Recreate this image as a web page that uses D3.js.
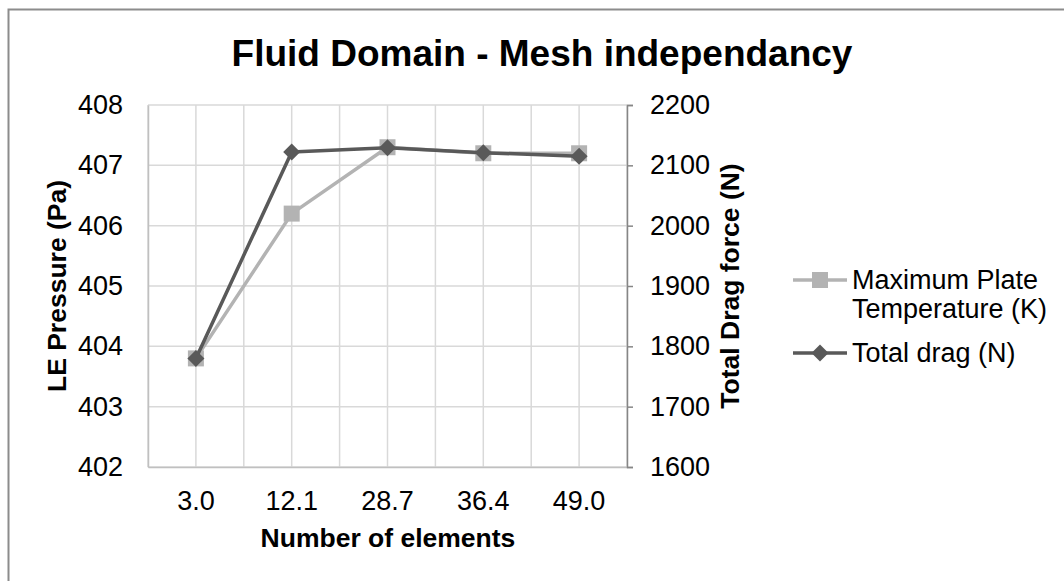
<!DOCTYPE html>
<html>
<head>
<meta charset="utf-8">
<script src="https://cdn.jsdelivr.net/npm/d3@7"></script>
<style>
  html, body { margin: 0; padding: 0; background: #fff; }
  svg { display: block; font-family: "Liberation Sans", Arial, sans-serif; }
</style>
</head>
<body>
<svg id="chart" width="1064" height="581"></svg>
<script>
// Mesh sizes (number of elements) and the two monitored quantities
const categories = ["3.0", "12.1", "28.7", "36.4", "49.0"];
const plateTemperature = [403.8, 406.2, 407.3, 407.2, 407.2];   // left axis
const totalDrag = [1780, 2122, 2129, 2121, 2115];                // right axis
const leftTicks = [402, 403, 404, 405, 406, 407, 408];
const rightTicks = [1600, 1700, 1800, 1900, 2000, 2100, 2200];
const seriesNames = ["Maximum Plate", "Temperature (K)", "Total drag (N)"];

const svg = d3.select("#chart");
const W = 1064, H = 581;
const plot = { left: 148, right: 627, top: 105, bottom: 467 };

const lightGrey = "#b3b3b3";
const darkGrey = "#595959";
const gridColor = "#d9d9d9";
const tickFont = 27;

// Outer chart frame
svg.append("rect")
  .attr("x", 8.5).attr("y", 9.5)
  .attr("width", W + 20).attr("height", H + 20)
  .attr("fill", "#fff").attr("stroke", "#8c8c8c").attr("stroke-width", 2);

// Scales
const x = d3.scaleBand().domain(categories).range([plot.left, plot.right]).padding(0);
const yL = d3.scaleLinear().domain([402, 408]).range([plot.bottom, plot.top]);
const yR = d3.scaleLinear().domain([1600, 2200]).range([plot.bottom, plot.top]);
const cx = c => x(c) + x.bandwidth() / 2;

// Gridlines: horizontal at each left tick, vertical at band edges and centres
const grid = svg.append("g").attr("stroke", gridColor).attr("stroke-width", 1.5);
grid.selectAll("line.h").data(leftTicks).join("line")
  .attr("x1", plot.left).attr("x2", plot.right)
  .attr("y1", d => yL(d)).attr("y2", d => yL(d));
const vPos = [];
categories.forEach(c => { vPos.push(x(c)); vPos.push(cx(c)); });
vPos.push(plot.right);
grid.selectAll("line.v").data(vPos).join("line")
  .attr("x1", d => d).attr("x2", d => d)
  .attr("y1", plot.top).attr("y2", plot.bottom);

// Left axis (no tick marks, light line)
const leftAxis = svg.append("g").attr("transform", `translate(${plot.left},0)`)
  .call(d3.axisLeft(yL).tickValues(leftTicks).tickFormat(d3.format("d")).tickSize(0).tickPadding(25));
leftAxis.select(".domain").attr("stroke", "#c0c0c0").attr("stroke-width", 1.5);
leftAxis.selectAll("text").attr("font-size", tickFont).attr("fill", "#000")
  .attr("font-family", "Liberation Sans, Arial, sans-serif");

// Bottom axis
const bottomAxis = svg.append("g").attr("transform", `translate(0,${plot.bottom})`)
  .call(d3.axisBottom(x).tickSize(0).tickPadding(24));
bottomAxis.select(".domain").attr("stroke", "#c0c0c0").attr("stroke-width", 1.5);
bottomAxis.selectAll("text").attr("font-size", tickFont).attr("fill", "#000")
  .attr("font-family", "Liberation Sans, Arial, sans-serif");

// Right axis with outward ticks
const rightAxis = svg.append("g").attr("transform", `translate(${plot.right},0)`)
  .call(d3.axisRight(yR).tickValues(rightTicks).tickFormat(d3.format("d")).tickSizeOuter(0).tickSize(6).tickPadding(17));
rightAxis.select(".domain").attr("stroke", "#868686").attr("stroke-width", 1.5);
rightAxis.selectAll(".tick line").attr("stroke", "#868686").attr("stroke-width", 1.5);
rightAxis.selectAll("text").attr("font-size", tickFont).attr("fill", "#000")
  .attr("font-family", "Liberation Sans, Arial, sans-serif");

// Series lines and markers
const lineL = d3.line().x((d, i) => cx(categories[i])).y(d => yL(d));
const lineR = d3.line().x((d, i) => cx(categories[i])).y(d => yR(d));

svg.append("path").datum(plateTemperature).attr("d", lineL)
  .attr("fill", "none").attr("stroke", lightGrey).attr("stroke-width", 3.5).attr("stroke-linejoin", "round");
const sq = 16;
svg.append("g").selectAll("rect").data(plateTemperature).join("rect")
  .attr("x", (d, i) => cx(categories[i]) - sq / 2)
  .attr("y", d => yL(d) - sq / 2)
  .attr("width", sq).attr("height", sq).attr("fill", lightGrey);

svg.append("path").datum(totalDrag).attr("d", lineR)
  .attr("fill", "none").attr("stroke", darkGrey).attr("stroke-width", 3.5).attr("stroke-linejoin", "round");
const diamond = d3.symbol().type(d3.symbolDiamond2).size(185);
svg.append("g").selectAll("path").data(totalDrag).join("path")
  .attr("d", diamond)
  .attr("transform", (d, i) => `translate(${cx(categories[i])},${yR(d)})`)
  .attr("fill", darkGrey);

// Titles
svg.append("text").attr("x", 542).attr("y", 66).attr("text-anchor", "middle")
  .attr("font-size", 37).attr("font-weight", "bold").text("Fluid Domain - Mesh independancy");
svg.append("text").attr("x", 388).attr("y", 547).attr("text-anchor", "middle")
  .attr("font-size", 26.5).attr("font-weight", "bold").text("Number of elements");
svg.append("text").attr("transform", `translate(66,${(plot.top + plot.bottom) / 2}) rotate(-90)`)
  .attr("text-anchor", "middle").attr("font-size", 26.5).attr("font-weight", "bold")
  .text("LE Pressure (Pa)");
svg.append("text").attr("transform", `translate(739,${(plot.top + plot.bottom) / 2}) rotate(-90)`)
  .attr("text-anchor", "middle").attr("font-size", 26.5).attr("font-weight", "bold")
  .text("Total Drag force (N)");

// Legend
const lg = svg.append("g");
const lx0 = 793, lx1 = 847, ltx = 852;
lg.append("line").attr("x1", lx0).attr("x2", lx1).attr("y1", 280).attr("y2", 280)
  .attr("stroke", lightGrey).attr("stroke-width", 3.5);
lg.append("rect").attr("x", (lx0 + lx1) / 2 - sq / 2).attr("y", 280 - sq / 2)
  .attr("width", sq).attr("height", sq).attr("fill", lightGrey);
lg.append("text").attr("x", ltx).attr("y", 289).attr("font-size", tickFont).text(seriesNames[0]);
lg.append("text").attr("x", ltx).attr("y", 318).attr("font-size", tickFont).text(seriesNames[1]);
lg.append("line").attr("x1", lx0).attr("x2", lx1).attr("y1", 353).attr("y2", 353)
  .attr("stroke", darkGrey).attr("stroke-width", 3.5);
lg.append("path").attr("d", diamond).attr("transform", `translate(${(lx0 + lx1) / 2},353)`)
  .attr("fill", darkGrey);
lg.append("text").attr("x", ltx).attr("y", 362).attr("font-size", tickFont).text(seriesNames[2]);
</script>
</body>
</html>
